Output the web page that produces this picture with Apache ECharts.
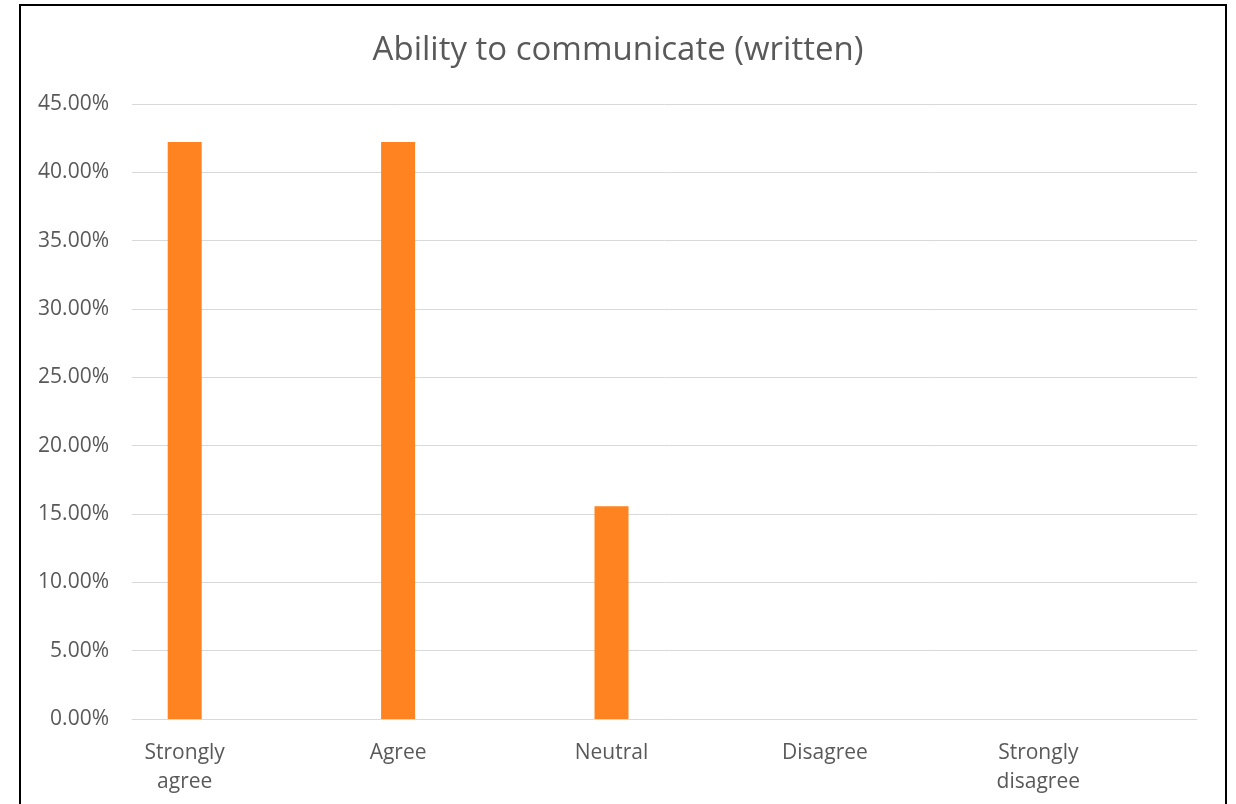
<!DOCTYPE html>
<html>
<head>
<meta charset="utf-8">
<script src="https://cdn.jsdelivr.net/npm/echarts@6/dist/echarts.min.js"></script>
<style>
  html, body { margin: 0; padding: 0; background: #ffffff; }
  #chart { width: 1236px; height: 804px; }
</style>
</head>
<body>
<div id="chart"></div>
<script>
// Survey responses: share of respondents per answer
const categories = ['Strongly\nagree', 'Agree', 'Neutral', 'Disagree', 'Strongly\ndisagree'];
const shares = [42.22, 42.22, 15.56, 0, 0];
const chartTitle = 'Ability to communicate (written)';
const yMin = 0, yMax = 45, yStep = 5;

const FONT = 'Open Sans';
const TEXT = '#595959';
const GRID_LINE = '#d9d9d9';

const chart = echarts.init(document.getElementById('chart'), null, { renderer: 'canvas' });
chart.setOption({
  animation: false,
  backgroundColor: '#ffffff',
  title: {
    text: chartTitle,
    left: 'center',
    top: 29,
    textStyle: { fontFamily: FONT, fontSize: 33, fontWeight: 'normal', color: TEXT }
  },
  // grid 0 carries the value scale and its gridlines; grid 1 carries the category bands
  grid: [
    { left: 132, right: 39, top: 104, bottom: 85 },
    { left: 78, right: 91, top: 104, bottom: 85 }
  ],
  xAxis: [
    {
      gridIndex: 0, type: 'category', data: categories,
      axisLine: { show: true, lineStyle: { color: GRID_LINE, width: 1 } },
      axisTick: { show: false }, axisLabel: { show: false }
    },
    {
      gridIndex: 1, type: 'category', data: categories,
      axisLine: { show: false }, axisTick: { show: false },
      axisLabel: { fontFamily: FONT, fontSize: 21, color: TEXT, margin: 20, lineHeight: 29 }
    }
  ],
  yAxis: [
    {
      gridIndex: 0, type: 'value', min: yMin, max: yMax, interval: yStep,
      axisLine: { show: false }, axisTick: { show: false },
      splitLine: { lineStyle: { color: GRID_LINE, width: 1 } },
      axisLabel: {
        fontFamily: FONT, fontSize: 21, color: TEXT, margin: 23,
        formatter: v => v.toFixed(2) + '%'
      }
    },
    {
      gridIndex: 1, type: 'value', min: yMin, max: yMax, interval: yStep,
      show: false, splitLine: { show: false }
    }
  ],
  series: [{
    type: 'bar',
    xAxisIndex: 1,
    yAxisIndex: 1,
    data: shares,
    barWidth: 34,
    itemStyle: { color: '#ff8321' }
  }],
  graphic: [{
    type: 'rect',
    shape: { x: 20, y: 5, width: 1206, height: 820 },
    style: { fill: 'none', stroke: '#000000', lineWidth: 2 },
    silent: true
  }]
});
</script>
</body>
</html>
